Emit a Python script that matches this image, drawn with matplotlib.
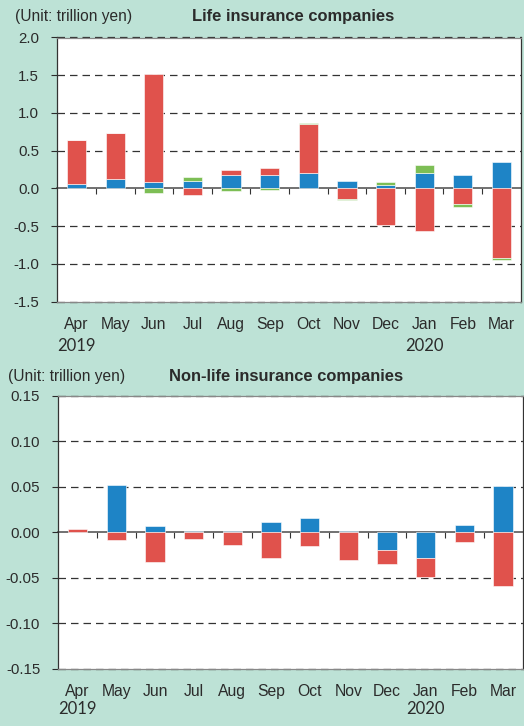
import numpy as np
import matplotlib
matplotlib.use('Agg')
import matplotlib.pyplot as plt
import matplotlib.transforms as mtransforms

plt.rcParams['font.family'] = ['Liberation Sans', 'DejaVu Sans']

# Datos (billones de yenes)
months = ['Apr', 'May', 'Jun', 'Jul', 'Aug', 'Sep', 'Oct', 'Nov', 'Dec', 'Jan', 'Feb', 'Mar']
years = ['2019', '2020']
year_pos = [0, 9]

life_blue = [0.06, 0.12, 0.08, 0.105, 0.185, 0.175, 0.20, 0.097, 0.04, 0.20, 0.172, 0.353]
life_red = [0.58, 0.61, 1.44, -0.088, 0.062, 0.093, 0.65, -0.135, -0.49, -0.56, -0.207, -0.918]
life_green = [0.0, 0.0, -0.066, 0.053, -0.03, -0.02, 0.018, -0.015, 0.04, 0.11, -0.04, -0.027]

nonlife_blue = [0.0, 0.052, 0.0073, 0.0015, 0.002, 0.0114, 0.0158, 0.0015, -0.0198, -0.0286, 0.008, 0.051]
nonlife_red = [0.004, -0.0084, -0.033, -0.007, -0.014, -0.028, -0.015, -0.030, -0.0146, -0.0205, -0.0106, -0.059]

BG = '#bde2d6'
RED = '#e0524c'
BLUE = '#1e84c6'
GREEN = '#7dbe55'
TXT = '#2b2b2b'


def stacked(ax, series, colors):
    '''Barras apiladas: positivos hacia arriba, negativos hacia abajo.'''
    x = np.arange(len(months))
    pos = np.zeros(len(months))
    neg = np.zeros(len(months))
    for vals, col in zip(series, colors):
        v = np.array(vals, dtype=float)
        base = np.where(v >= 0, pos, neg)
        ax.bar(x, v, bottom=base, width=0.5, color=col,
               edgecolor='white', linewidth=0.4, zorder=3)
        pos = pos + np.where(v >= 0, v, 0)
        neg = neg + np.where(v < 0, v, 0)


def style(ax, ylim, yticks, fmt, year_y, month_pad):
    ax.set_facecolor('white')
    ax.set_xlim(-0.5, len(months) - 0.5)
    ax.set_ylim(*ylim)
    ax.set_yticks(yticks)
    ax.set_yticklabels([fmt.format(t) for t in yticks])
    ax.tick_params(axis='y', direction='out', length=4, width=0.8,
                   pad=9, labelsize=10.8, colors=TXT)
    ax.set_xticks(np.arange(len(months)))
    ax.set_xticklabels(months)
    ax.tick_params(axis='x', length=0, pad=month_pad, labelsize=11.3, colors=TXT)
    for s in ax.spines.values():
        s.set_color('#333333')
        s.set_linewidth(0.9)
    ax.spines['top'].set_color('#888888')
    ax.spines['bottom'].set_color('#888888')
    # rejilla punteada
    for t in yticks:
        if abs(t) > 1e-9:
            ax.axhline(t, color='#333333', lw=0.9, ls=(0, (6, 4)), zorder=1,
                       clip_on=False)
    # eje en cero con marcas entre meses
    sec = ax.secondary_xaxis(0, transform=ax.transData)
    sec.set_xticks(np.arange(len(months) - 1) + 0.5)
    sec.set_xticklabels([])
    sec.tick_params(direction='out', length=4, width=0.8, colors='#333333')
    sec.spines['bottom'].set_color('#666666')
    sec.spines['bottom'].set_linewidth(1.3)
    trans = mtransforms.blended_transform_factory(ax.transData, ax.transAxes)
    for yr, p in zip(years, year_pos):
        ax.text(p, year_y, yr, transform=trans, ha='center', va='center',
                fontsize=12, color=TXT, family=['Lato', 'DejaVu Sans'])


fig = plt.figure(figsize=(5.24, 7.26), dpi=100, facecolor=BG)

ax1 = fig.add_axes([57.3 / 524, 1 - 301.7 / 726, 463.4 / 524, 264.2 / 726])
stacked(ax1, [life_blue, life_red, life_green], [BLUE, RED, GREEN])
style(ax1, (-1.5, 2.0), [-1.5, -1.0, -0.5, 0.0, 0.5, 1.0, 1.5, 2.0], '{:.1f}',
      -0.167, 11)

ax2 = fig.add_axes([58.3 / 524, 1 - 669 / 726, 464.2 / 524, 273.3 / 726])
stacked(ax2, [nonlife_blue, nonlife_red], [BLUE, RED])
style(ax2, (-0.15, 0.15), [-0.15, -0.10, -0.05, 0.0, 0.05, 0.10, 0.15], '{:.2f}',
      -0.146, 11)

fig.text(15 / 524, 1 - 17 / 726, '(Unit: trillion yen)', ha='left', va='center',
         fontsize=11.2, color=TXT)
fig.text(293.6 / 524, 1 - 16 / 726, 'Life insurance companies', ha='center',
         va='center', fontsize=11.9, fontweight='bold', color=TXT)
fig.text(7.5 / 524, 1 - 377 / 726, '(Unit: trillion yen)', ha='left', va='center',
         fontsize=11.2, color=TXT)
fig.text(286.5 / 524, 1 - 377 / 726, 'Non-life insurance companies', ha='center',
         va='center', fontsize=11.9, fontweight='bold', color=TXT)

fig.savefig('out.png', dpi=100, facecolor=BG)
